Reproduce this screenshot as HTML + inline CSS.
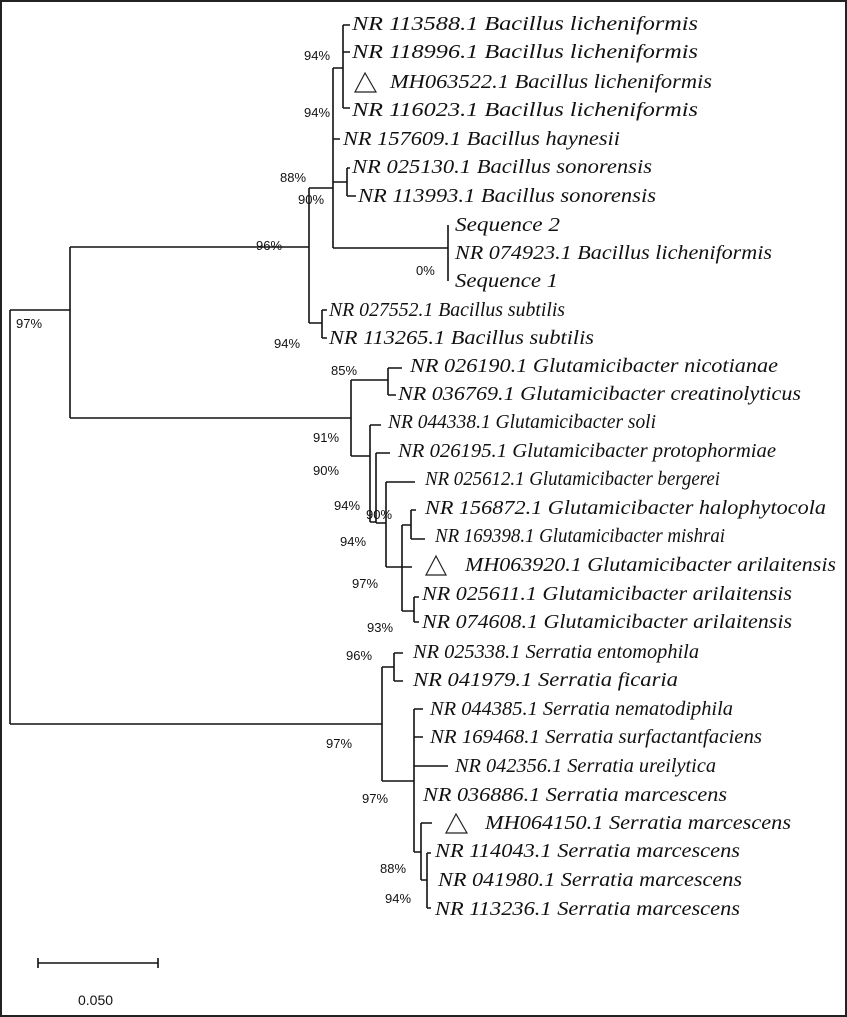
<!DOCTYPE html>
<html><head><meta charset="utf-8"><style>
html,body{margin:0;padding:0;background:#fff}
svg{display:block}
.t{font-family:"Liberation Serif",serif;font-style:italic;font-size:20px;fill:#111}
.p{font-family:"Liberation Sans","DejaVu Sans",sans-serif;font-size:13px;fill:#111}
</style></head><body>
<svg width="847" height="1017" viewBox="0 0 847 1017" xmlns="http://www.w3.org/2000/svg">
<rect x="1" y="1" width="845" height="1015" fill="#fff" stroke="#222" stroke-width="2"/>
<g stroke="#111" stroke-width="1.6" fill="none">
<path d="M10 310V724M10 310H70M10 724H382"/>
<path d="M70 247V418M70 247H309M309 188V323M309 188H333M309 323H322M322 310V338M322 310H327M322 338H327"/>
<path d="M333 68V248M333 68H343M343 25V108M343 25H350M343 52H350M343 108H350M333 139H340"/>
<path d="M333 182H347M347 168V196M347 168H350M347 196H356"/>
<path d="M333 248H448M448 225V281"/>
<path d="M70 418H351M351 380V456M351 380H388M388 368V395M388 368H402M388 395H396"/>
<path d="M351 456H370M370 425V522M370 425H381M370 522H376M376 453V523M376 453H390M376 523H386"/>
<path d="M386 482V567M386 482H415M386 567H402M402 525V611M402 567H412M402 525H411M411 510V539M411 510H416M411 539H425M402 611H414M414 597V622M414 597H419M414 622H419"/>
<path d="M382 667V781M382 667H394M394 653V681M394 653H403M394 681H403"/>
<path d="M382 781H414M414 709V852M414 709H423M414 737H423M414 766H448M414 852H421M421 823V880M421 823H432M421 880H427M427 853V908M427 853H431M427 908H431"/>
<path d="M38 963H158M38 958V968M158 958V968"/>
</g>
<g fill="none" stroke="#222" stroke-width="1.2">
<path d="M355 92L365 73L376 92Z"/>
<path d="M426 575L436 556L446 575Z"/>
<path d="M446 833L456 814L467 833Z"/>
</g>
<g class="t">
<text x="352" y="30" textLength="346" lengthAdjust="spacingAndGlyphs">NR 113588.1 Bacillus licheniformis</text>
<text x="352" y="58" textLength="346" lengthAdjust="spacingAndGlyphs">NR 118996.1 Bacillus licheniformis</text>
<text x="390" y="88" textLength="322" lengthAdjust="spacingAndGlyphs">MH063522.1 Bacillus licheniformis</text>
<text x="352" y="116" textLength="346" lengthAdjust="spacingAndGlyphs">NR 116023.1 Bacillus licheniformis</text>
<text x="343" y="145" textLength="277" lengthAdjust="spacingAndGlyphs">NR 157609.1 Bacillus haynesii</text>
<text x="352" y="173" textLength="300" lengthAdjust="spacingAndGlyphs">NR 025130.1 Bacillus sonorensis</text>
<text x="358" y="202" textLength="298" lengthAdjust="spacingAndGlyphs">NR 113993.1 Bacillus sonorensis</text>
<text x="455" y="231" textLength="105" lengthAdjust="spacingAndGlyphs">Sequence 2</text>
<text x="455" y="259" textLength="317" lengthAdjust="spacingAndGlyphs">NR 074923.1 Bacillus licheniformis</text>
<text x="455" y="287" textLength="103" lengthAdjust="spacingAndGlyphs">Sequence 1</text>
<text x="329" y="316" textLength="236" lengthAdjust="spacingAndGlyphs">NR 027552.1 Bacillus subtilis</text>
<text x="329" y="344" textLength="265" lengthAdjust="spacingAndGlyphs">NR 113265.1 Bacillus subtilis</text>
<text x="410" y="372" textLength="368" lengthAdjust="spacingAndGlyphs">NR 026190.1 Glutamicibacter nicotianae</text>
<text x="398" y="400" textLength="403" lengthAdjust="spacingAndGlyphs">NR 036769.1 Glutamicibacter creatinolyticus</text>
<text x="388" y="428" textLength="268" lengthAdjust="spacingAndGlyphs">NR 044338.1 Glutamicibacter soli</text>
<text x="398" y="457" textLength="378" lengthAdjust="spacingAndGlyphs">NR 026195.1 Glutamicibacter protophormiae</text>
<text x="425" y="485" textLength="295" lengthAdjust="spacingAndGlyphs">NR 025612.1 Glutamicibacter bergerei</text>
<text x="425" y="514" textLength="401" lengthAdjust="spacingAndGlyphs">NR 156872.1 Glutamicibacter halophytocola</text>
<text x="435" y="542" textLength="290" lengthAdjust="spacingAndGlyphs">NR 169398.1 Glutamicibacter mishrai</text>
<text x="465" y="571" textLength="371" lengthAdjust="spacingAndGlyphs">MH063920.1 Glutamicibacter arilaitensis</text>
<text x="422" y="600" textLength="370" lengthAdjust="spacingAndGlyphs">NR 025611.1 Glutamicibacter arilaitensis</text>
<text x="422" y="628" textLength="370" lengthAdjust="spacingAndGlyphs">NR 074608.1 Glutamicibacter arilaitensis</text>
<text x="413" y="658" textLength="286" lengthAdjust="spacingAndGlyphs">NR 025338.1 Serratia entomophila</text>
<text x="413" y="686" textLength="265" lengthAdjust="spacingAndGlyphs">NR 041979.1 Serratia ficaria</text>
<text x="430" y="715" textLength="303" lengthAdjust="spacingAndGlyphs">NR 044385.1 Serratia nematodiphila</text>
<text x="430" y="743" textLength="332" lengthAdjust="spacingAndGlyphs">NR 169468.1 Serratia surfactantfaciens</text>
<text x="455" y="772" textLength="261" lengthAdjust="spacingAndGlyphs">NR 042356.1 Serratia ureilytica</text>
<text x="423" y="801" textLength="304" lengthAdjust="spacingAndGlyphs">NR 036886.1 Serratia marcescens</text>
<text x="485" y="829" textLength="306" lengthAdjust="spacingAndGlyphs">MH064150.1 Serratia marcescens</text>
<text x="435" y="857" textLength="305" lengthAdjust="spacingAndGlyphs">NR 114043.1 Serratia marcescens</text>
<text x="438" y="886" textLength="304" lengthAdjust="spacingAndGlyphs">NR 041980.1 Serratia marcescens</text>
<text x="435" y="915" textLength="305" lengthAdjust="spacingAndGlyphs">NR 113236.1 Serratia marcescens</text>
</g>
<g class="p">
<text x="304" y="60">94%</text>
<text x="304" y="117">94%</text>
<text x="280" y="182">88%</text>
<text x="298" y="204">90%</text>
<text x="256" y="250">96%</text>
<text x="416" y="275">0%</text>
<text x="274" y="348">94%</text>
<text x="16" y="328">97%</text>
<text x="331" y="375">85%</text>
<text x="313" y="442">91%</text>
<text x="313" y="475">90%</text>
<text x="334" y="510">94%</text>
<text x="366" y="519">90%</text>
<text x="340" y="546">94%</text>
<text x="352" y="588">97%</text>
<text x="367" y="632">93%</text>
<text x="346" y="660">96%</text>
<text x="326" y="748">97%</text>
<text x="362" y="803">97%</text>
<text x="380" y="873">88%</text>
<text x="385" y="903">94%</text>
<text x="78" y="1005" font-size="14">0.050</text>
</g>
</svg>
</body></html>
